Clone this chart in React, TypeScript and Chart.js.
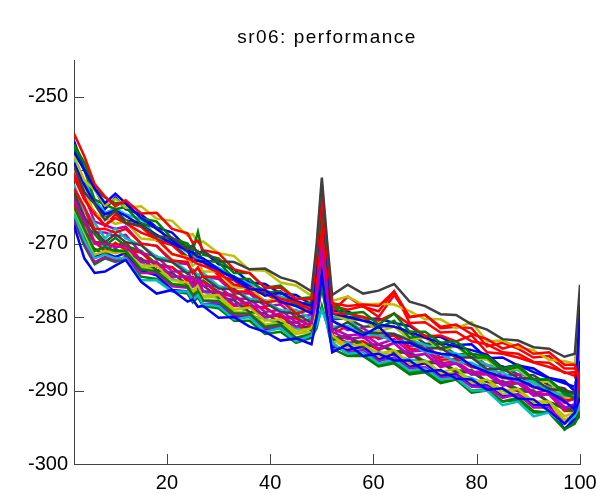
import { useEffect, useRef } from "react";
import { Chart, registerables } from "chart.js";

Chart.register(...registerables);

const TITLE = "sr06: performance";
const X = [2, 4, 6, 8, 10, 12, 15, 18, 21, 24, 25, 26, 27, 30, 33, 36, 39, 42, 45, 48, 49, 50, 51, 52, 55, 58, 61, 64, 67, 70, 73, 76, 79, 82, 85, 88, 91, 94, 97, 99, 100];
const xTicks = [20, 40, 60, 80, 100];
const yTicks = [-300, -290, -280, -270, -260, -250];

const s01 = [-259.5, -263, -264.6, -266.8, -265.5, -267.2, -267.5, -269, -269.2, -270.8, -270.2, -271.5, -271, -272.4, -272.5, -273.5, -273.4, -274.6, -275.2, -276.5, -270, -261, -269.5, -277, -275.6, -276.8, -276.4, -275.5, -277.9, -278.5, -279.6, -279.7, -281, -281.7, -283, -283.2, -284.1, -284.3, -285.4, -285, -275.6];
const s02 = [-255, -258.1, -261.9, -263.6, -264.9, -264.1, -265.9, -265.8, -268, -268.6, -269.9, -269.6, -270.9, -271.3, -273.5, -274, -276, -276, -277.5, -277.6, -271.5, -263.5, -271, -278.1, -278.5, -278.3, -278.5, -276.5, -280, -279.7, -281.3, -281, -282.3, -283, -284.3, -283.7, -285, -284.8, -286.5, -286.5, -289];
const s03 = [-257.5, -260, -262.5, -264.5, -263.2, -264.5, -266.5, -268, -269.5, -271, -271.2, -271.8, -272, -273.5, -274.8, -276.2, -276.3, -277.9, -278.5, -279.5, -272, -263, -271.5, -280.5, -281.5, -282.5, -281.3, -283.4, -283.5, -284.5, -285, -285.2, -286.6, -287.5, -288.2, -288.5, -289.5, -290.2, -291.5, -292.5, -278.3];
const s04 = [-256.5, -259, -262.5, -263.7, -264.5, -264.5, -266.5, -267, -269.3, -270, -271, -268.4, -271.5, -272, -274, -274, -276, -275.7, -277.5, -277.3, -272.5, -264.5, -272, -278, -279.5, -279.3, -281, -279.5, -282, -282, -283.5, -283.3, -285, -285.3, -287, -286.5, -288.5, -288.5, -290.5, -291, -290.5];
const s05 = [-267.5, -272, -274, -273.8, -273, -272.2, -275.2, -276.8, -276.3, -277.9, -277.6, -278.6, -278.5, -280.1, -280, -281.3, -282, -283.2, -282.9, -283.7, -280, -274, -279.5, -284.8, -283.7, -285.3, -285, -285.9, -285.9, -287.4, -287.2, -288.4, -288.5, -289.9, -289.7, -291.1, -291.2, -292.8, -294.5, -293, -291];
const s06 = [-266, -269.5, -272, -271.5, -272, -272, -275, -275, -276.5, -276.5, -277.7, -277, -278.3, -278.5, -280.3, -280, -282, -281.5, -283.3, -282.5, -281, -279, -281, -283.5, -285, -284.8, -286.3, -285.8, -287.3, -287, -288.5, -288.3, -290, -290, -292, -291.5, -293.5, -293, -294.5, -293.5, -292];
const s07 = [-258, -261.4, -262.7, -264.8, -263.9, -265.1, -264.9, -266.6, -266.9, -268.9, -268.7, -269.9, -269.7, -271.3, -271.7, -273.6, -273.7, -275.3, -275.7, -277.1, -270.5, -261.8, -270, -277.8, -277.2, -278.3, -278.2, -278.3, -279.2, -280.3, -280.3, -281.5, -280.7, -283.3, -283.2, -284.1, -284.5, -285.8, -286, -286.3, -277.2];
const s08 = [-264, -267, -270, -270, -270.5, -270.3, -272.5, -272.5, -274.5, -274.5, -275.8, -275, -276.5, -276.5, -278.3, -278, -280, -279.5, -281.3, -280.8, -277.5, -271, -277, -282, -283, -282.7, -284.3, -283.5, -285.3, -285, -286.7, -286.3, -287.8, -287.8, -289.3, -289, -290.7, -290.5, -292.5, -291.8, -280];
const s09 = [-261, -264, -266, -267.5, -266.5, -267.2, -268.5, -269.3, -271.4, -272, -272.3, -272.8, -273, -273.9, -275.6, -276, -276.5, -277.5, -278, -279, -273.5, -266, -273, -279.5, -279.5, -280, -280.5, -279.5, -281, -282.6, -282.5, -283.3, -282.5, -284.8, -285, -285.5, -286.2, -286.8, -287.5, -288, -290];
const s10 = [-262.5, -265, -268, -268, -268.5, -268, -270, -270.3, -272.3, -272.5, -274, -273.3, -274.5, -274.5, -276.5, -276.5, -278, -277.7, -279.5, -279, -275, -268.5, -274.5, -278.5, -279, -278.5, -280, -277, -280, -279.7, -281.5, -281.3, -281.5, -284, -283.5, -284.3, -285.5, -285.3, -287, -287, -288];
const s11 = [-263, -266.4, -268.2, -269.8, -268.7, -269.8, -270.2, -272.1, -272.5, -274.1, -273.7, -274.8, -274.5, -276.1, -276.2, -277.8, -278, -279.3, -279.5, -280.8, -276, -268, -275.5, -281.8, -280.7, -282.1, -282.2, -282.3, -283.2, -284.3, -284.2, -285.5, -285.5, -287.1, -287, -288.3, -288.4, -289.8, -290, -290.3, -287.5];
const s12 = [-265, -268, -271, -270.5, -271, -271, -273.5, -273.8, -275.5, -275.8, -277, -276.5, -277.7, -277.8, -279.5, -279.5, -281.3, -281, -282.8, -282.3, -280, -275.5, -280, -283.5, -285, -285.3, -286.7, -286.3, -287.8, -287.5, -289, -288.5, -290.3, -290, -291.5, -291, -292.8, -293, -295.3, -294.5, -293];
const s13 = [-262, -265.4, -267.2, -269.3, -267.9, -269.3, -270.2, -271.8, -272.2, -273.8, -273.5, -274.3, -274, -275.8, -276.2, -277.5, -277.7, -279.1, -279, -280.3, -275.5, -267.5, -275, -281.3, -281.2, -282.3, -282.5, -283.3, -283.5, -284.8, -285, -286.1, -286.2, -287.3, -287.5, -288.8, -288.7, -290.1, -290.7, -290.8, -282];
const s14 = [-265.5, -268.5, -271.5, -271, -271.3, -271, -273, -273, -275, -275.3, -276.5, -275.7, -277.1, -277, -279, -278.7, -280.5, -280.3, -282, -281.5, -278.5, -273.5, -278, -282.5, -284, -283.7, -285, -284.5, -286.3, -286, -287.5, -287, -288.8, -288.5, -290, -289.8, -291.5, -291.5, -293.5, -293, -291.5];
const s15 = [-259, -262, -264.5, -266, -265.5, -266.2, -267.5, -268.8, -270, -270.9, -272.4, -272.3, -272.5, -273.8, -274.5, -275.8, -277.1, -276.7, -277.8, -278.5, -273, -264, -272.5, -279.5, -280, -280.5, -281, -281.3, -282, -282.8, -283.5, -284, -284.5, -285.1, -286.9, -286.5, -287.5, -288.3, -289, -289.5, -286];
const s16 = [-262.5, -265.3, -268.5, -268.5, -269, -268.8, -271.3, -271.7, -273.8, -273.8, -275, -274.3, -275.7, -275.8, -277.5, -277.5, -279.3, -279, -280.7, -280.3, -276.5, -269.5, -276, -281.5, -282.5, -282.3, -283.7, -283, -284.7, -284.5, -286.3, -286, -287.5, -287.3, -289, -288.5, -290.3, -290, -292.3, -292, -286.5];
const s17 = [-264.5, -268.4, -269.7, -271.1, -269.9, -270.8, -271.2, -273.1, -273.2, -275.1, -274.7, -275.6, -275.2, -276.8, -277.2, -278.6, -278.7, -280.1, -280.2, -281.3, -277, -271.5, -276.5, -282.3, -281.2, -282.8, -282.7, -282.5, -284.3, -284.5, -285.8, -285.7, -286.8, -287.2, -288.3, -288.5, -289.6, -289.7, -291.3, -291.2, -293.5];
const s18 = [-257, -260, -264, -264.7, -265.3, -265, -267.3, -267.8, -269.8, -270.3, -271.5, -271, -272.3, -272.5, -274.8, -274.8, -276.7, -276.5, -278.3, -278, -272, -262.5, -271.5, -278.5, -280, -280, -281.5, -280.5, -282.8, -282.5, -284.3, -283.8, -285.5, -285.5, -287.3, -286.8, -288.5, -288.5, -290.3, -290.5, -289];
const s19 = [-266.5, -269.9, -270.7, -271.6, -270.7, -271.6, -272, -273.6, -274, -275.6, -275.2, -276.1, -275.7, -277.3, -277.7, -279.3, -279.5, -280.8, -280.7, -281.8, -278, -272.5, -277.5, -283.1, -282.7, -284.1, -283.7, -284.8, -284.9, -286.3, -286.2, -287.5, -287.5, -288.8, -289, -290.1, -290.2, -291.6, -292.2, -292.6, -290];
const s20 = [-259.8, -262.5, -266, -266.5, -267.3, -267, -269.3, -269.5, -271.5, -271.8, -273, -272.5, -273.8, -273.8, -276, -276, -277.8, -277.5, -279.3, -278.8, -274.5, -265.5, -274, -279.5, -280.5, -280.3, -282, -281.3, -283, -282.8, -284.5, -284, -285.5, -285.8, -287.3, -287, -288.8, -288.8, -291, -290.5, -288.5];
const s21 = [-258.5, -261.5, -264, -265.8, -265.2, -266, -266.7, -269.1, -269.8, -271.2, -271.5, -272, -272.3, -273.3, -274.5, -275.5, -276.3, -277.2, -278, -278.8, -273.5, -265, -273, -280, -280.2, -282.1, -282, -282.3, -283, -283.8, -284.3, -285, -285.5, -286.5, -287.2, -287.2, -289.1, -289.5, -290.8, -290.3, -284];
const s22 = [-267, -270, -272.5, -271.8, -272.3, -271.8, -274, -274, -275.8, -276, -277.3, -276.5, -277.8, -278, -279.8, -279.8, -281.5, -281.3, -283, -282.5, -280, -276, -279.5, -283.8, -284.8, -284.5, -286, -285.5, -287, -286.8, -288.3, -288, -289.5, -289.5, -291, -290.5, -292.3, -292.3, -294.5, -293.5, -292];
const s23 = [-260, -263.9, -265.7, -267.6, -266, -267.1, -267.7, -269.6, -270.2, -272.1, -271.7, -272.6, -272.5, -274.3, -275, -276.6, -276.7, -278.1, -278.2, -279.3, -274, -266.5, -273.5, -279.3, -277.2, -278.6, -279.2, -276.5, -280.8, -280.7, -282.1, -282, -283.3, -283.7, -284.8, -285, -286.1, -286.2, -287.6, -287.5, -291];
const s24 = [-265.8, -268.8, -271.8, -271.3, -271.8, -271.3, -273.7, -274.3, -276.3, -276.5, -277.7, -277, -278.3, -278.3, -280, -280, -281.8, -281.5, -283, -282.7, -280, -275, -279.5, -284, -284.5, -284, -285.8, -285, -286.8, -286.3, -288, -287.8, -289.3, -289.3, -290.8, -290.5, -292, -292, -295.3, -293.8, -293];
const s25 = [-263.5, -267.4, -268.7, -270.3, -269.2, -270.3, -271, -272.8, -273.2, -274.8, -274.5, -275.3, -275, -276.6, -277, -278.5, -278.7, -280.1, -280, -281.3, -277, -271, -276.5, -282.8, -282.5, -283.8, -283.7, -284.6, -284.7, -286.1, -286, -287.3, -287.2, -288.8, -288.7, -289.8, -290, -291.6, -292.5, -292.8, -291];
const s26 = [-264.8, -267.8, -270.8, -270.7, -271.3, -270.5, -273.3, -273.5, -275.5, -275.5, -276.8, -276, -277.3, -277.3, -279.3, -279.3, -281, -280.8, -282.3, -282, -279, -274, -278.5, -283, -284.3, -284, -285.5, -284.8, -286.5, -286.3, -287.8, -287.5, -289, -288.8, -290.5, -290, -291.8, -291.8, -294, -293.3, -292.5];
const s27 = [-264.2, -267.8, -270, -270.5, -270, -270.8, -272.5, -273.8, -274.8, -275.5, -275.8, -276.2, -276.5, -277.5, -277.7, -279.9, -280.2, -281, -281.5, -282.2, -278.5, -273, -278, -283.3, -283.5, -284.3, -284.8, -285.2, -285.8, -285.9, -287.6, -287.8, -288.3, -289.3, -290, -290.8, -291.5, -292.8, -294, -293.5, -289];
const s28 = [-260.5, -263.5, -267, -267.5, -268, -267.7, -270, -270.3, -272.5, -272.8, -274, -273.3, -274.5, -274.8, -276.8, -276.8, -278.5, -278.3, -280, -279.7, -275.5, -268, -275, -280.5, -281.8, -281.5, -283, -282.3, -284, -283.8, -285.5, -285, -286.8, -286.5, -288, -287.8, -289.5, -289.5, -291.7, -291, -285];
const s29 = [-258, -262.2, -264.2, -266.5, -265.5, -266.8, -267.2, -269.3, -270, -271.8, -271.5, -272.5, -272.2, -273.8, -274.5, -276.1, -276.5, -277.6, -278, -279.1, -273.5, -264.5, -273, -280.3, -280.2, -281.3, -281.2, -281.3, -282.2, -283.6, -283.7, -285.1, -285, -286.6, -286.7, -287.8, -287.9, -289.3, -289.7, -291.1, -289.5];
const s30 = [-266.8, -270.3, -272.8, -272, -272.5, -272, -274.5, -274.8, -276.5, -276.8, -278, -277.3, -278.5, -278.8, -280.5, -280.5, -282.3, -282, -283.5, -282.8, -281.5, -278.5, -281, -284.3, -285.3, -285.3, -286.5, -286, -287.5, -287.3, -288.8, -288.5, -290, -289.8, -291.5, -291.3, -293, -293, -295.2, -294.2, -293.5];
const s31 = [-256, -259.9, -262.5, -265.3, -263.7, -265.3, -266, -267.8, -268.5, -270.6, -270.3, -271.3, -271, -272.8, -273.5, -275.3, -275.5, -276.8, -277, -278.3, -271.5, -262.5, -271, -279.1, -279.2, -280.3, -280.2, -280.8, -281.2, -282.6, -282.7, -283.8, -283.7, -285.6, -285.5, -286.6, -287, -288.3, -288.7, -290.1, -292];
const s32 = [-263.2, -266.3, -269.8, -269.8, -270.3, -269.8, -272.3, -272.5, -274.5, -274.5, -275.8, -275.1, -276.5, -276.7, -278.5, -278.5, -280, -279.8, -281.5, -281.3, -278, -273, -277.5, -282.5, -283.5, -283.3, -284.5, -283.5, -285.5, -285, -286.8, -286.3, -287.8, -287.5, -289.3, -288.8, -290.5, -290.5, -292.8, -292.8, -293.5];

const SERIES = [s01, s02, s03, s04, s05, s06, s07, s08, s09, s10, s11, s12, s13, s14, s15, s16, s17, s18, s19, s20, s21, s22, s23, s24, s25, s26, s27, s28, s29, s30, s31, s32];

const GRAY = "#404040";
const RED = "#ff0000";
const BLUE = "#0000ff";
const GREEN = "#008000";
const CYAN = "#00bfbf";
const YELLOW = "#bfbf00";
const MAGENTA = "#bf00bf";

const seriesColors = [
  GRAY, RED, BLUE, GREEN, BLUE, CYAN, YELLOW, MAGENTA,
  RED, RED, GRAY, GREEN, CYAN, YELLOW, BLUE, MAGENTA,
  RED, GREEN, GRAY, YELLOW, CYAN, MAGENTA, RED, BLUE,
  GREEN, YELLOW, CYAN, MAGENTA, GRAY, GREEN, BLUE, RED,
];

const AXIS_COLOR = "#444444";
const FONT_FAMILY = '"Liberation Sans", Arial, Helvetica, sans-serif';

const titlePlugin = {
  id: "plotTitle",
  afterDraw(chart: any) {
    const ctx = chart.ctx;
    const { left, right } = chart.chartArea;
    ctx.save();
    ctx.font = `19px ${FONT_FAMILY}`;
    ctx.fillStyle = "#000";
    ctx.textAlign = "center";
    ctx.textBaseline = "alphabetic";
    (ctx as any).letterSpacing = "1.5px";
    ctx.fillText(TITLE, (left + right) / 2, 43);
    ctx.restore();
  },
};

const tickMarkPlugin = {
  id: "innerTicks",
  beforeDatasetsDraw(chart: any) {
    const ctx = chart.ctx;
    const xs = chart.scales.x;
    const ys = chart.scales.y;
    const { left, bottom } = chart.chartArea;
    ctx.save();
    ctx.strokeStyle = AXIS_COLOR;
    ctx.lineWidth = 1;
    ctx.beginPath();
    for (const v of yTicks) {
      if (v === ys.min) continue;
      const p = Math.round(ys.getPixelForValue(v)) + 0.5;
      ctx.moveTo(left, p);
      ctx.lineTo(left + 10, p);
    }
    for (const v of xTicks) {
      const p = Math.round(xs.getPixelForValue(v)) + 0.5;
      ctx.moveTo(p, bottom);
      ctx.lineTo(p, bottom - 10);
    }
    ctx.stroke();
    ctx.restore();
  },
};

export default function App() {
  const canvasRef = useRef<HTMLCanvasElement | null>(null);

  useEffect(() => {
    const canvas = canvasRef.current;
    if (!canvas) return;
    const datasets = SERIES.map((s, i) => ({
      label: `run ${i + 1}`,
      data: X.map((x, j) => ({ x, y: s[j] })),
      borderColor: seriesColors[i],
      backgroundColor: seriesColors[i],
      borderWidth: 2.5,
      pointRadius: 0,
      fill: false,
      tension: 0,
    }));
    const chart = new Chart(canvas, {
      type: "line",
      data: { datasets },
      plugins: [titlePlugin, tickMarkPlugin],
      options: {
        animation: false,
        responsive: false,
        events: [],
        layout: { padding: { top: 60, right: 16, bottom: 0, left: 0 } },
        plugins: {
          legend: { display: false },
          title: { display: false },
          tooltip: { enabled: false },
        },
        scales: {
          x: {
            type: "linear",
            min: 2,
            max: 100,
            grid: { display: false, drawTicks: false },
            border: { display: true, color: AXIS_COLOR, width: 1 },
            ticks: {
              color: "#000",
              padding: 7,
              maxRotation: 0,
              font: { family: FONT_FAMILY, size: 20 },
            },
            afterBuildTicks: (scale: any) => {
              scale.ticks = xTicks.map((v) => ({ value: v }));
            },
            afterFit: (scale: any) => {
              scale.height = 31;
              scale.paddingLeft = 0;
              scale.paddingRight = 0;
            },
          },
          y: {
            type: "linear",
            min: -300,
            max: -245,
            grid: { display: false, drawTicks: false },
            border: { display: true, color: AXIS_COLOR, width: 1 },
            ticks: {
              color: "#000",
              padding: 6,
              font: { family: FONT_FAMILY, size: 20 },
            },
            afterBuildTicks: (scale: any) => {
              scale.ticks = yTicks.map((v) => ({ value: v }));
            },
            afterFit: (scale: any) => {
              scale.width = 74;
              scale.paddingTop = 0;
              scale.paddingBottom = 0;
            },
          },
        },
      },
    });
    return () => chart.destroy();
  }, []);

  return (
    <div style={{ position: "absolute", left: 0, top: 0, width: 596, height: 495, background: "#fff" }}>
      <canvas ref={canvasRef} width={596} height={495} style={{ display: "block" }} />
    </div>
  );
}
